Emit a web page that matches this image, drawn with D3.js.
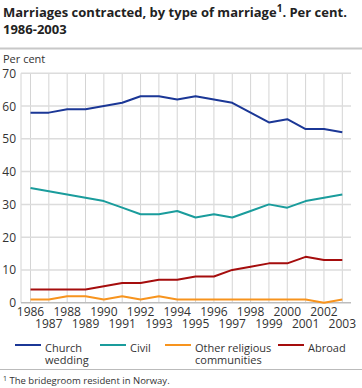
<!DOCTYPE html>
<html>
<head>
<meta charset="utf-8">
<script src="https://cdn.jsdelivr.net/npm/d3@7"></script>
<style>
  body { margin: 0; background: #fff; }
  svg { display: block; font-family: "Open Sans", "Noto Sans", sans-serif; }
</style>
</head>
<body>
<div id="target"></div>
<script>
const years = d3.range(1986, 2004);
const church = [58, 58, 59, 59, 60, 61, 63, 63, 62, 63, 62, 61, 58, 55, 56, 53, 53, 52];
const civil = [35, 34, 33, 32, 31, 29, 27, 27, 28, 26, 27, 26, 28, 30, 29, 31, 32, 33];
const other = [1, 1, 2, 2, 1, 2, 1, 2, 1, 1, 1, 1, 1, 1, 1, 1, 0, 1];
const abroad = [4, 4, 4, 4, 5, 6, 6, 7, 7, 8, 8, 10, 11, 12, 12, 14, 13, 13];
const yTicks = [0, 10, 20, 30, 40, 50, 60, 70];

const seriesNames = [["Church", "wedding"], ["Civil"], ["Other religious", "communities"], ["Abroad"]];
const seriesColors = ["#1b3796", "#1a9c9c", "#f7941e", "#a50d0d"];
const seriesValues = [church, civil, other, abroad];

const width = 362,
  height = 388;

const svg = d3.select("#target").append("svg")
  .attr("width", width)
  .attr("height", height);

// title
const title = svg.append("text")
  .attr("x", 3)
  .attr("y", 17)
  .attr("font-size", 13)
  .attr("font-weight", "bold")
  .attr("fill", "#222");
title.append("tspan").text("Marriages contracted, by type of marriage");
title.append("tspan").text("1").attr("font-size", 10).attr("dy", -5);
title.append("tspan").text(". Per cent.").attr("dy", 5);
svg.append("text")
  .attr("x", 3)
  .attr("y", 34)
  .attr("font-size", 13)
  .attr("font-weight", "bold")
  .attr("fill", "#222")
  .text("1986-2003");

svg.append("line")
  .attr("x1", 0).attr("x2", width)
  .attr("y1", 48.5).attr("y2", 48.5)
  .attr("stroke", "#c8c8c8").attr("stroke-width", 2);

svg.append("text")
  .attr("x", 3)
  .attr("y", 63)
  .attr("font-size", 11)
  .attr("fill", "#333")
  .text("Per cent");

const x = d3.scaleLinear()
  .domain([1986, 2003])
  .range([30.5, 342.3]);

const y = d3.scaleLinear()
  .domain([0, 70])
  .range([302.7, 73.3]);

const left = 21,
  right = 351;

// gridlines
svg.append("g")
  .selectAll("line")
  .data(years)
  .join("line")
  .attr("x1", (d) => x(d)).attr("x2", (d) => x(d))
  .attr("y1", y(70)).attr("y2", y(0))
  .attr("stroke", "#d4d4d4")
  .attr("stroke-width", 1);

svg.append("line")
  .attr("x1", left).attr("x2", left)
  .attr("y1", y(70)).attr("y2", y(0))
  .attr("stroke", "#d4d4d4");

svg.append("g")
  .selectAll("line")
  .data(yTicks)
  .join("line")
  .attr("x1", left).attr("x2", right)
  .attr("y1", (d) => y(d)).attr("y2", (d) => y(d))
  .attr("stroke", (d) => d === 0 ? "#bdbdbd" : "#dcdcdc")
  .attr("stroke-width", 1.5);

// y labels
svg.append("g")
  .selectAll("text")
  .data(yTicks)
  .join("text")
  .attr("x", 16)
  .attr("y", (d) => y(d) + 4.5)
  .attr("text-anchor", "end")
  .attr("font-size", 12)
  .attr("fill", "#333")
  .text((d) => d);

// x labels
svg.append("g")
  .selectAll("text")
  .data(years)
  .join("text")
  .attr("x", (d) => x(d))
  .attr("y", (d) => d % 2 === 0 ? 316 : 328)
  .attr("text-anchor", "middle")
  .attr("font-size", 12)
  .attr("fill", "#333")
  .text((d) => d);

// lines
const line = d3.line()
  .x((d, i) => x(years[i]))
  .y((d) => y(d));

svg.append("g")
  .selectAll("path")
  .data(seriesValues)
  .join("path")
  .attr("d", line)
  .attr("fill", "none")
  .attr("stroke", (d, i) => seriesColors[i])
  .attr("stroke-width", 2)
  .attr("stroke-linejoin", "round");

// legend
const legendX = [15, 100, 165, 278];
const legend = svg.append("g")
  .selectAll("g")
  .data(seriesNames)
  .join("g")
  .attr("transform", (d, i) => `translate(${legendX[i]},0)`);

legend.append("line")
  .attr("x1", 0).attr("x2", 26)
  .attr("y1", 345).attr("y2", 345)
  .attr("stroke", (d, i) => seriesColors[i])
  .attr("stroke-width", 2);

legend.append("text")
  .attr("font-size", 11)
  .attr("fill", "#333")
  .selectAll("tspan")
  .data((d) => d)
  .join("tspan")
  .attr("x", 30)
  .attr("y", (d, i) => 352 + i * 12)
  .text((d) => d);

svg.append("line")
  .attr("x1", 0).attr("x2", width)
  .attr("y1", 369.5).attr("y2", 369.5)
  .attr("stroke", "#bbb").attr("stroke-width", 1);

const foot = svg.append("text")
  .attr("x", 3)
  .attr("y", 384)
  .attr("font-size", 9.5)
  .attr("fill", "#333");
foot.append("tspan").text("1").attr("font-size", 7).attr("dy", -3);
foot.append("tspan").text(" The bridegroom resident in Norway.").attr("dy", 3);
</script>
</body>
</html>
